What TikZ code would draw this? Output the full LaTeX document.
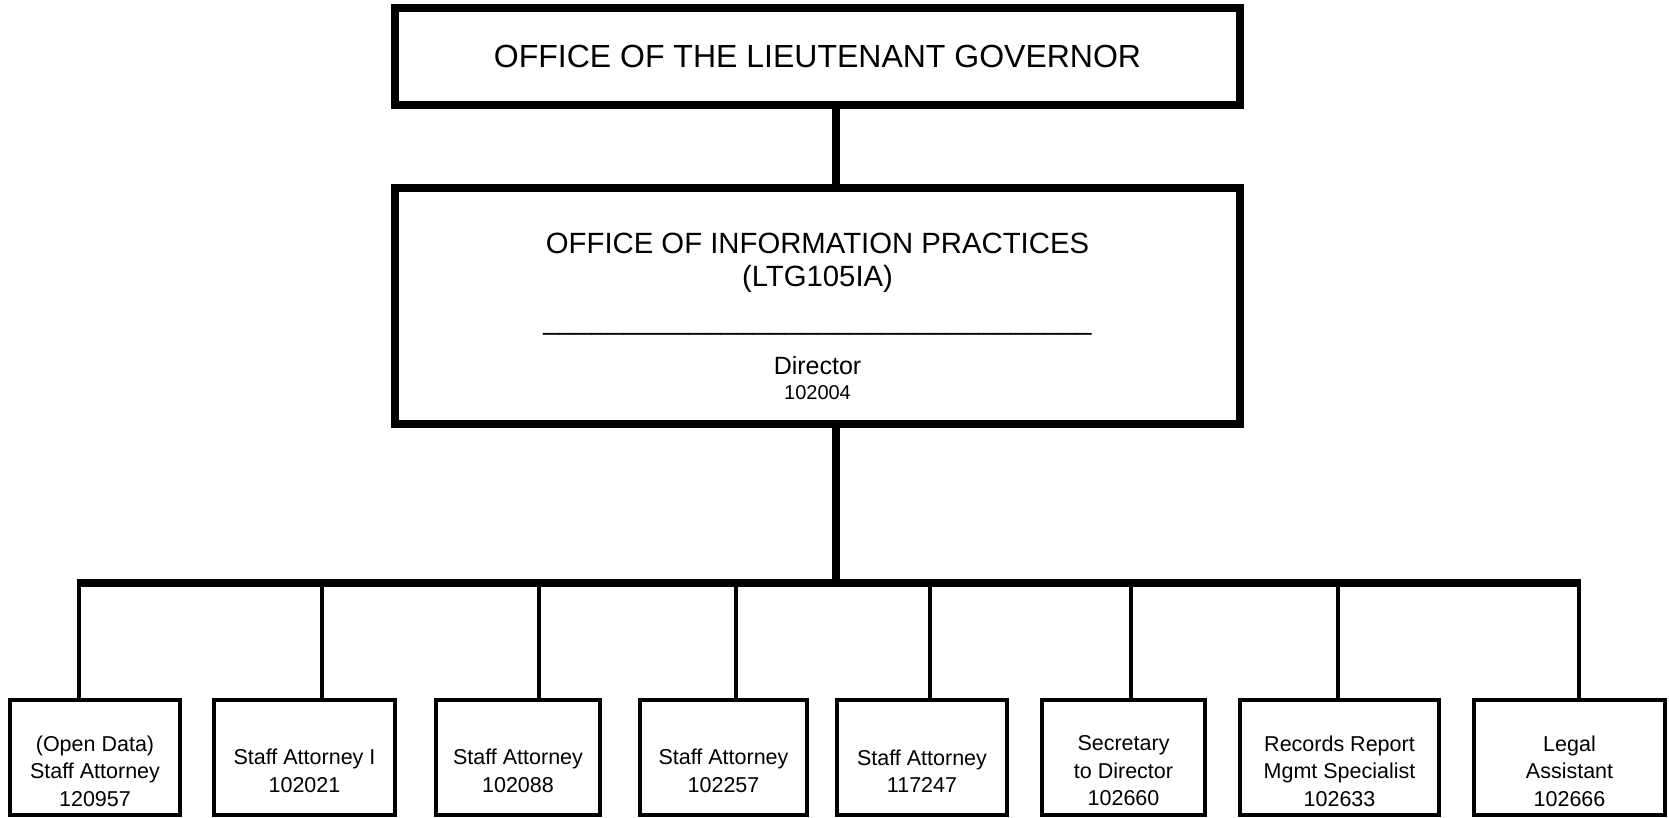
\documentclass[tikz,border=0pt]{standalone}
\usepackage{fontspec}
\setmainfont{Liberation Sans}
\begin{document}
\begin{tikzpicture}[x=1pt,y=-1pt,
  bigbox/.style={draw,line width=8pt,outer sep=0pt,inner sep=0pt,minimum width=845pt},
  smallbox/.style={draw,line width=4pt,outer sep=0pt,inner sep=0pt,minimum height=115pt},
  thickconn/.style={line width=8pt},
  thinconn/.style={line width=4pt},
  txt/.style={anchor=base,inner sep=0pt},
  lbl/.style={align=center,inner sep=0pt,font=\fontsize{21.5}{27.5}\selectfont}]
\useasboundingbox (0,0) rectangle (1669,817);
% top boxes
\node[bigbox,minimum height=97pt,font=\fontsize{32}{36}\selectfont] (ltg) at (817.5,56.5) {OFFICE OF THE LIEUTENANT GOVERNOR};
\node[bigbox,minimum height=236pt] (oip) at (817.5,306) {};
\node[txt,font=\fontsize{29.3}{34}\selectfont] (oipname) at (817.5,253) {OFFICE OF INFORMATION PRACTICES};
\node[txt,font=\fontsize{29.3}{34}\selectfont] (oipcode) at (817.5,286) {(LTG105IA)};
\node[txt,font=\fontsize{29}{34}\selectfont] (oiprule) at (817.5,329) {\_\_\_\_\_\_\_\_\_\_\_\_\_\_\_\_\_\_\_\_\_\_\_\_\_\_\_\_\_\_\_\_\_\_};
\node[txt,font=\fontsize{25}{30}\selectfont] (oiptitle) at (817.5,374) {Director};
\node[txt,font=\fontsize{20}{24}\selectfont] (oipnum) at (817.5,399) {102004};
% bottom boxes
\node[smallbox,minimum width=170pt] (b1) at (95,757.5) {};
\node[smallbox,minimum width=181pt] (b2) at (304.5,757.5) {};
\node[smallbox,minimum width=164pt] (b3) at (518,757.5) {};
\node[smallbox,minimum width=167pt] (b4) at (723.5,757.5) {};
\node[smallbox,minimum width=170pt] (b5) at (922,757.5) {};
\node[smallbox,minimum width=163pt] (b6) at (1123.5,757.5) {};
\node[smallbox,minimum width=199pt] (b7) at (1339.5,757.5) {};
\node[smallbox,minimum width=191pt] (b8) at (1569.5,757.5) {};
\node[lbl] (t1) at ([yshift=-13.5pt]b1.center) {(Open Data)\\Staff Attorney\\120957};
\node[lbl] (t2) at ([yshift=-13.5pt]b2.center) {Staff Attorney I\\102021};
\node[lbl] (t3) at ([yshift=-13.5pt]b3.center) {Staff Attorney\\102088};
\node[lbl] (t4) at ([yshift=-13.5pt]b4.center) {Staff Attorney\\102257};
\node[lbl] (t5) at ([yshift=-13.5pt]b5.center) {Staff Attorney\\117247};
\node[lbl] (t6) at ([yshift=-13.5pt]b6.center) {Secretary\\to Director\\102660};
\node[lbl] (t7) at ([yshift=-13.5pt]b7.center) {Records Report\\Mgmt Specialist\\102633};
\node[lbl] (t8) at ([yshift=-13.5pt]b8.center) {Legal\\Assistant\\102666};
% junctions on the bus
\coordinate (jm) at (836,583);
\coordinate (j1) at (79,583);
\coordinate (j2) at (322,583);
\coordinate (j3) at (539,583);
\coordinate (j4) at (736,583);
\coordinate (j5) at (930,583);
\coordinate (j6) at (1131,583);
\coordinate (j7) at (1338,583);
\coordinate (j8) at (1579,583);
% connectors
\draw[thickconn] (ltg.south -| jm) -- (oip.north -| jm);
\draw[thickconn] (oip.south -| jm) -- (jm);
\draw[thickconn] ([xshift=-2pt]j1) -- ([xshift=2pt]j8);
\foreach \i in {1,...,8}{\draw[thinconn] (j\i) -- (j\i |- b\i.north);}
\end{tikzpicture}
\end{document}
